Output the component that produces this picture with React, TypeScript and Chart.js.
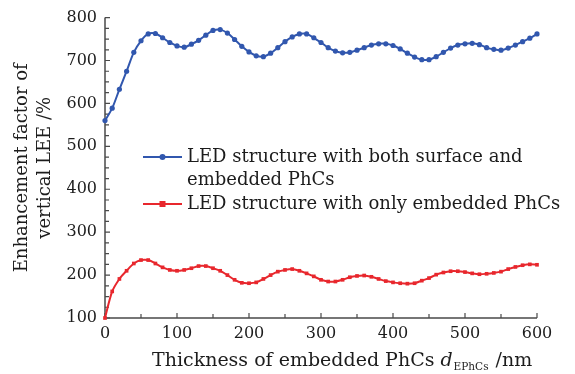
import { useEffect, useRef } from 'react';
import { Chart, registerables } from 'chart.js';
Chart.register(...registerables);

const thickness = [0, 10, 20, 30, 40, 50, 60, 70, 80, 90, 100, 110, 120, 130, 140, 150, 160, 170, 180, 190, 200, 210, 220, 230, 240, 250, 260, 270, 280, 290, 300, 310, 320, 330, 340, 350, 360, 370, 380, 390, 400, 410, 420, 430, 440, 450, 460, 470, 480, 490, 500, 510, 520, 530, 540, 550, 560, 570, 580, 590, 600];

const bothSurfaceEmbedded = [560, 589, 633, 675, 719, 746, 762, 763, 753, 742, 734, 731, 738, 747, 759, 770, 772, 764, 749, 733, 720, 711, 709, 717, 730, 744, 755, 762, 762, 753, 742, 730, 722, 718, 719, 724, 730, 736, 739, 739, 735, 727, 717, 708, 702, 702, 709, 719, 729, 736, 739, 740, 737, 730, 726, 724, 729, 736, 744, 752, 762];

const onlyEmbedded = [100, 162, 191, 210, 227, 235, 235, 227, 218, 212, 210, 212, 216, 221, 221, 216, 210, 200, 189, 182, 181, 183, 191, 200, 208, 212, 214, 210, 204, 197, 189, 185, 185, 189, 195, 198, 199, 196, 191, 186, 183, 181, 180, 181, 187, 193, 201, 206, 209, 209, 207, 204, 202, 203, 205, 208, 214, 219, 223, 225, 224];

const legendLabels = [
  ['LED structure with both surface and', 'embedded PhCs'],
  ['LED structure with only embedded PhCs'],
];
const yTitle = ['Enhancement factor of', 'vertical LEE /%'];
const xTitleParts = ['Thickness of embedded PhCs ', 'd', 'EPhCs', ' /nm'];

const BLUE = '#3157ae';
const RED = '#e8272d';
const TEXT = '#1c1c1c';
const AXIS = '#4a4a4a';
const FONT = '"DejaVu Serif", serif';

export default function App() {
  const ref = useRef<HTMLCanvasElement>(null);
  useEffect(() => {
    document.body.style.margin = '0';
    const canvas = ref.current;
    if (!canvas) return;

    const decor = {
      id: 'decor',
      beforeDatasetsDraw(chart: any) {
        const ctx = chart.ctx;
        const { left, right, top, bottom } = chart.chartArea;
        const xs = chart.scales.x;
        const ys = chart.scales.y;
        ctx.save();
        ctx.strokeStyle = AXIS;
        ctx.lineWidth = 1.5;
        ctx.beginPath();
        ctx.moveTo(left, top);
        ctx.lineTo(left, bottom);
        ctx.lineTo(right, bottom);
        ctx.stroke();
        ctx.lineWidth = 1.2;
        ctx.beginPath();
        ys.ticks.forEach((t: any) => {
          const y = ys.getPixelForValue(t.value);
          const len = t.value % 100 === 0 ? 5 : 4;
          ctx.moveTo(left, y);
          ctx.lineTo(left + len, y);
        });
        xs.ticks.forEach((t: any) => {
          const x = xs.getPixelForValue(t.value);
          const len = t.value % 100 === 0 ? 5 : 4;
          ctx.moveTo(x, bottom);
          ctx.lineTo(x, bottom - len);
        });
        ctx.stroke();
        ctx.restore();
      },
      afterDraw(chart: any) {
        const ctx = chart.ctx;
        const { top, bottom } = chart.chartArea;
        ctx.save();
        ctx.fillStyle = TEXT;
        // y title
        ctx.font = `18px ${FONT}`;
        ctx.textAlign = 'center';
        ctx.textBaseline = 'middle';
        const cy = (top + bottom) / 2;
        [22, 45].forEach((x, i) => {
          ctx.save();
          ctx.translate(x, cy);
          ctx.rotate(-Math.PI / 2);
          ctx.fillText(yTitle[i], 0, 0);
          ctx.restore();
        });
        // x title
        ctx.textAlign = 'left';
        ctx.textBaseline = 'alphabetic';
        let x = 152;
        const base = 366;
        ctx.font = `19px ${FONT}`;
        ctx.fillText(xTitleParts[0], x, base);
        x += ctx.measureText(xTitleParts[0]).width;
        ctx.font = `italic 19px ${FONT}`;
        ctx.fillText(xTitleParts[1], x, base);
        x += ctx.measureText(xTitleParts[1]).width + 1;
        ctx.font = `10.5px ${FONT}`;
        ctx.fillText(xTitleParts[2], x, base + 4);
        x += ctx.measureText(xTitleParts[2]).width + 1;
        ctx.font = `19px ${FONT}`;
        ctx.fillText(xTitleParts[3], x, base);

        // legend
        const rows = [
          { y: 157, color: BLUE, style: 'circle', lines: legendLabels[0] },
          { y: 204, color: RED, style: 'rect', lines: legendLabels[1] },
        ];
        ctx.font = `18px ${FONT}`;
        ctx.textBaseline = 'middle';
        rows.forEach((r) => {
          ctx.strokeStyle = r.color;
          ctx.fillStyle = r.color;
          ctx.lineWidth = 2;
          ctx.beginPath();
          ctx.moveTo(143, r.y);
          ctx.lineTo(182, r.y);
          ctx.stroke();
          if (r.style === 'circle') {
            ctx.beginPath();
            ctx.arc(162.5, r.y, 3, 0, Math.PI * 2);
            ctx.fill();
          } else {
            ctx.fillRect(159.5, r.y - 3, 6, 6);
          }
          ctx.fillStyle = TEXT;
          r.lines.forEach((t, i) => ctx.fillText(t, 187, r.y + i * 23));
        });
        ctx.restore();
      },
    };

    const chart = new Chart(canvas, {
      type: 'line',
      data: {
        datasets: [
          {
            label: legendLabels[0].join(' '),
            data: thickness.map((t, i) => ({ x: t, y: bothSurfaceEmbedded[i] })),
            borderColor: BLUE,
            backgroundColor: BLUE,
            borderWidth: 2,
            pointRadius: 2.6,
            pointStyle: 'circle',
            pointBorderWidth: 0,
            tension: 0.3,
            clip: false as any,
          },
          {
            label: legendLabels[1].join(' '),
            data: thickness.map((t, i) => ({ x: t, y: onlyEmbedded[i] })),
            borderColor: RED,
            backgroundColor: RED,
            borderWidth: 2,
            pointRadius: 2.6,
            pointStyle: 'rect',
            pointBorderWidth: 0,
            tension: 0.3,
            clip: false as any,
          },
        ],
      },
      options: {
        animation: false,
        responsive: false,
        devicePixelRatio: 1,
        layout: { padding: { top: 14, right: 38, left: 0, bottom: 0 } },
        plugins: { legend: { display: false }, tooltip: { enabled: false } },
        scales: {
          x: {
            type: 'linear',
            min: 0,
            max: 600,
            grid: { display: false, drawTicks: false },
            border: { display: false },
            ticks: {
              stepSize: 50,
              autoSkip: false,
              maxRotation: 0,
              padding: 6,
              color: TEXT,
              font: { family: FONT, size: 16 },
              callback: (v: any) => (Number(v) % 100 === 0 ? String(v) : ''),
            },
            afterFit: (s: any) => {
              s.height = 56;
            },
          },
          y: {
            type: 'linear',
            min: 100,
            max: 800,
            grid: { display: false, drawTicks: false },
            border: { display: false },
            ticks: {
              stepSize: 25,
              autoSkip: false,
              padding: 8,
              color: TEXT,
              font: { family: FONT, size: 16 },
              callback: (v: any) => (Number(v) % 100 === 0 ? String(v) : ''),
            },
            afterFit: (s: any) => {
              s.width = 105;
            },
          },
        },
      },
      plugins: [decor],
    });
    return () => chart.destroy();
  }, []);
  return <canvas ref={ref} width={575} height={374} style={{ display: 'block', background: '#ffffff' }} />;
}
